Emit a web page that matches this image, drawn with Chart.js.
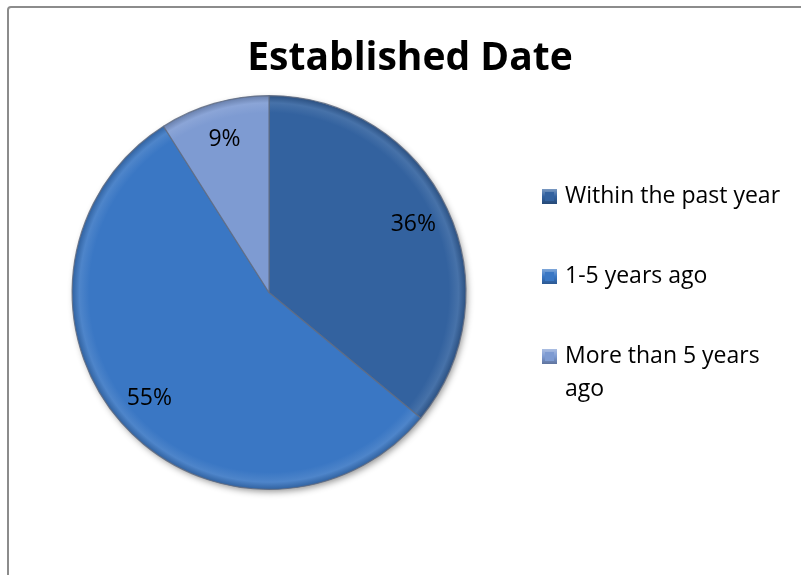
<!DOCTYPE html>
<html>
<head>
<meta charset="utf-8">
<title>Established Date</title>
<script src="https://cdn.jsdelivr.net/npm/chart.js@4.4.1/dist/chart.umd.min.js"></script>
<style>
html,body{margin:0;padding:0;background:#fff;overflow:hidden}
#wrap{position:relative;width:801px;height:575px}
#frame{position:absolute;left:7px;top:6px;width:900px;height:700px;border:2px solid #8c8c8c;border-radius:4px}
#chart{position:absolute;left:0;top:0}
</style>
</head>
<body>
<div id="wrap">
<div id="frame"></div>
<canvas id="chart" width="801" height="575"></canvas>
</div>
<script>

// DATA

const title="Established Date"

const categories=[
"Within the past year",
"1-5 years ago",
"More than 5 years ago"
]

const shares=[36,55,9]

const colors=["#33629f","#3a77c4","#7e9bd2"]


// HELPERS

function shade(hex,amt){

const n=parseInt(hex.slice(1),16)
let r=(n>>16)&255,g=(n>>8)&255,b=n&255

const f=v=>Math.max(0,Math.min(255,Math.round(amt>0?v+(255-v)*amt:v*(1+amt))))

return "rgb("+f(r)+","+f(g)+","+f(b)+")"

}

function sliceFill(ctx){

const chart=ctx.chart
const a=chart.chartArea
const base=colors[ctx.dataIndex]

if(!a) return base

const cx=(a.left+a.right)/2
const cy=(a.top+a.bottom)/2
const r=Math.min(a.width,a.height)/2

const g=chart.ctx.createRadialGradient(cx,cy,0,cx,cy,r)
g.addColorStop(0,base)
g.addColorStop(0.91,base)
g.addColorStop(0.96,shade(base,0.1))
g.addColorStop(1,shade(base,-0.2))

return g

}


// PLUGINS

// soft shadow under the whole pie
const pieShadow={

id:"pieShadow",

beforeDatasetsDraw(chart){

const arc=chart.getDatasetMeta(0).data[0]
if(!arc) return

const c=chart.ctx
c.save()
c.shadowColor="rgba(0,0,0,0.45)"
c.shadowBlur=7
c.shadowOffsetX=2
c.shadowOffsetY=3
c.fillStyle="#35679f"
c.beginPath()
c.arc(arc.x,arc.y,arc.outerRadius-1,0,Math.PI*2)
c.fill()
c.restore()

}

}

// percentage labels inside each slice
const sliceLabels={

id:"sliceLabels",

afterDatasetsDraw(chart){

const c=chart.ctx
const meta=chart.getDatasetMeta(0)

c.save()
c.font='23px "Open Sans"'
c.fillStyle="#000"
c.textAlign="center"
c.textBaseline="middle"

meta.data.forEach((arc,i)=>{

const mid=(arc.startAngle+arc.endAngle)/2
const d=arc.outerRadius*0.81

c.fillText(shares[i]+"%",arc.x+Math.cos(mid)*d,arc.y+Math.sin(mid)*d)

})

c.restore()

}

}

// title and right-hand legend
const sideText={

id:"sideText",

afterDraw(chart){

const c=chart.ctx
const a=chart.chartArea

c.save()

c.font='bold 39px "Open Sans"'
c.fillStyle="#000"
c.textAlign="center"
c.textBaseline="middle"
c.fillText(title,410,59)

// legend
c.font='23px "Open Sans"'
c.textAlign="left"

const boxX=542
const textX=565
const maxW=801-textX-6
const lineH=33
const gap=47

const items=categories.map(label=>{

const words=label.split(" ")
const lines=[]
let cur=""

words.forEach(w=>{

const test=cur?cur+" "+w:w

if(c.measureText(test).width>maxW && cur){
lines.push(cur)
cur=w
}else{
cur=test
}

})

lines.push(cur)
return lines

})

const total=items.reduce((s,l)=>s+l.length*lineH,0)+gap*(items.length-1)
let y=(a.top+a.bottom)/2-total/2

items.forEach((lines,i)=>{

const cy=y+lineH/2

// bevelled square marker
const s=15
const bx=boxX,by=Math.round(cy-s/2)
const g=c.createLinearGradient(0,by,0,by+s)
g.addColorStop(0,shade(colors[i],0.35))
g.addColorStop(0.5,colors[i])
g.addColorStop(1,shade(colors[i],-0.25))
c.fillStyle=g
c.fillRect(bx,by,s,s)
c.fillStyle=colors[i]
c.fillRect(bx+3,by+3,s-6,s-6)

c.fillStyle="#000"
lines.forEach((t,k)=>c.fillText(t,textX,cy+k*lineH))

y+=lines.length*lineH+gap

})

c.restore()

}

}


// CHART

new Chart(document.getElementById("chart"),{

type:"pie",

data:{
labels:categories,
datasets:[{
data:shares,
backgroundColor:sliceFill,
borderColor:"rgba(96,108,130,0.85)",
borderWidth:1.2,
hoverOffset:0
}]
},

options:{
responsive:false,
animation:false,
events:[],
layout:{padding:{left:70,right:333,top:95,bottom:85}},
plugins:{
legend:{display:false},
tooltip:{enabled:false}
}
},

plugins:[pieShadow,sliceLabels,sideText]

})

</script>
</body>
</html>
